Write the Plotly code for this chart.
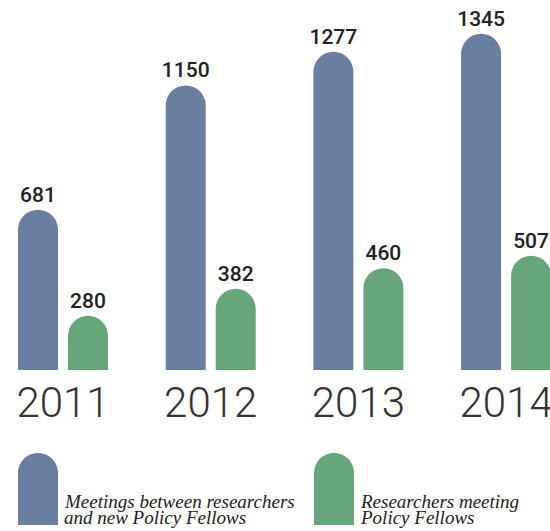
import plotly.graph_objects as go

years = ["2011", "2012", "2013", "2014"]
meetings_new = [681, 1150, 1277, 1345]
meetings_fellows = [280, 382, 460, 507]
series_lines = [["Meetings between researchers", "and new Policy Fellows"],
                ["Researchers meeting", "Policy Fellows"]]

BLUE = "#6a7e9f"
GREEN = "#67a67b"
W, H = 550, 531
GROUP = 147.7  # px per category
bw = 40 / GROUP
xpos = list(range(len(years)))

fig = go.Figure()
for vals, color, off in [(meetings_new, BLUE, -45 / GROUP), (meetings_fellows, GREEN, 5 / GROUP)]:
    fig.add_trace(go.Bar(
        x=xpos, y=vals, width=bw, offset=off,
        marker=dict(color=color, cornerradius=20, line=dict(width=0)),
        text=[str(v) for v in vals], textposition="outside", constraintext="none",
        textfont=dict(family="Roboto", size=21, color="#222222", weight=500),
        cliponaxis=False, showlegend=False, hoverinfo="skip",
    ))

fig.update_layout(
    width=W, height=H, barmode="overlay",
    margin=dict(l=0, r=0, t=0, b=161, autoexpand=False),
    paper_bgcolor="white", plot_bgcolor="white",
    xaxis=dict(range=[-63 / GROUP, (550 - 63) / GROUP], tickvals=xpos, ticktext=years,
               showgrid=False, zeroline=False, showline=False, ticks="",
               ticklabeloverflow="allow", ticklabelstandoff=4,
               tickfont=dict(family="Roboto", size=42, color="#333333", weight=300)),
    yaxis=dict(range=[75.5, 1472.8], visible=False),
)

# legend swatches (rounded-top rectangles) and labels
plot_h = H - 161
def py(p):
    return (plot_h - p) / plot_h

swatch = "M 0,0 L 0,52 C 0,63.05 8.95,72 20,72 C 31.05,72 40,63.05 40,52 L 40,0 Z"
for x_px, color, lines in [(18, BLUE, series_lines[0]), (314, GREEN, series_lines[1])]:
    fig.add_shape(type="path", xref="paper", yref="paper", xsizemode="pixel", ysizemode="pixel",
                  xanchor=x_px / W, yanchor=py(525), path=swatch,
                  fillcolor=color, line=dict(width=0))
    for i, line in enumerate(lines):
        fig.add_annotation(xref="paper", yref="paper", x=(x_px + 44) / W, y=py(502 + 15 * i),
                           xanchor="left", yanchor="middle", align="left", showarrow=False,
                           text="<i>" + line + "</i>",
                           font=dict(family="Liberation Serif", size=19, color="#222222"))

fig.write_html("out.html", config={"displayModeBar": False},
               post_script="document.body.style.margin='0';")
